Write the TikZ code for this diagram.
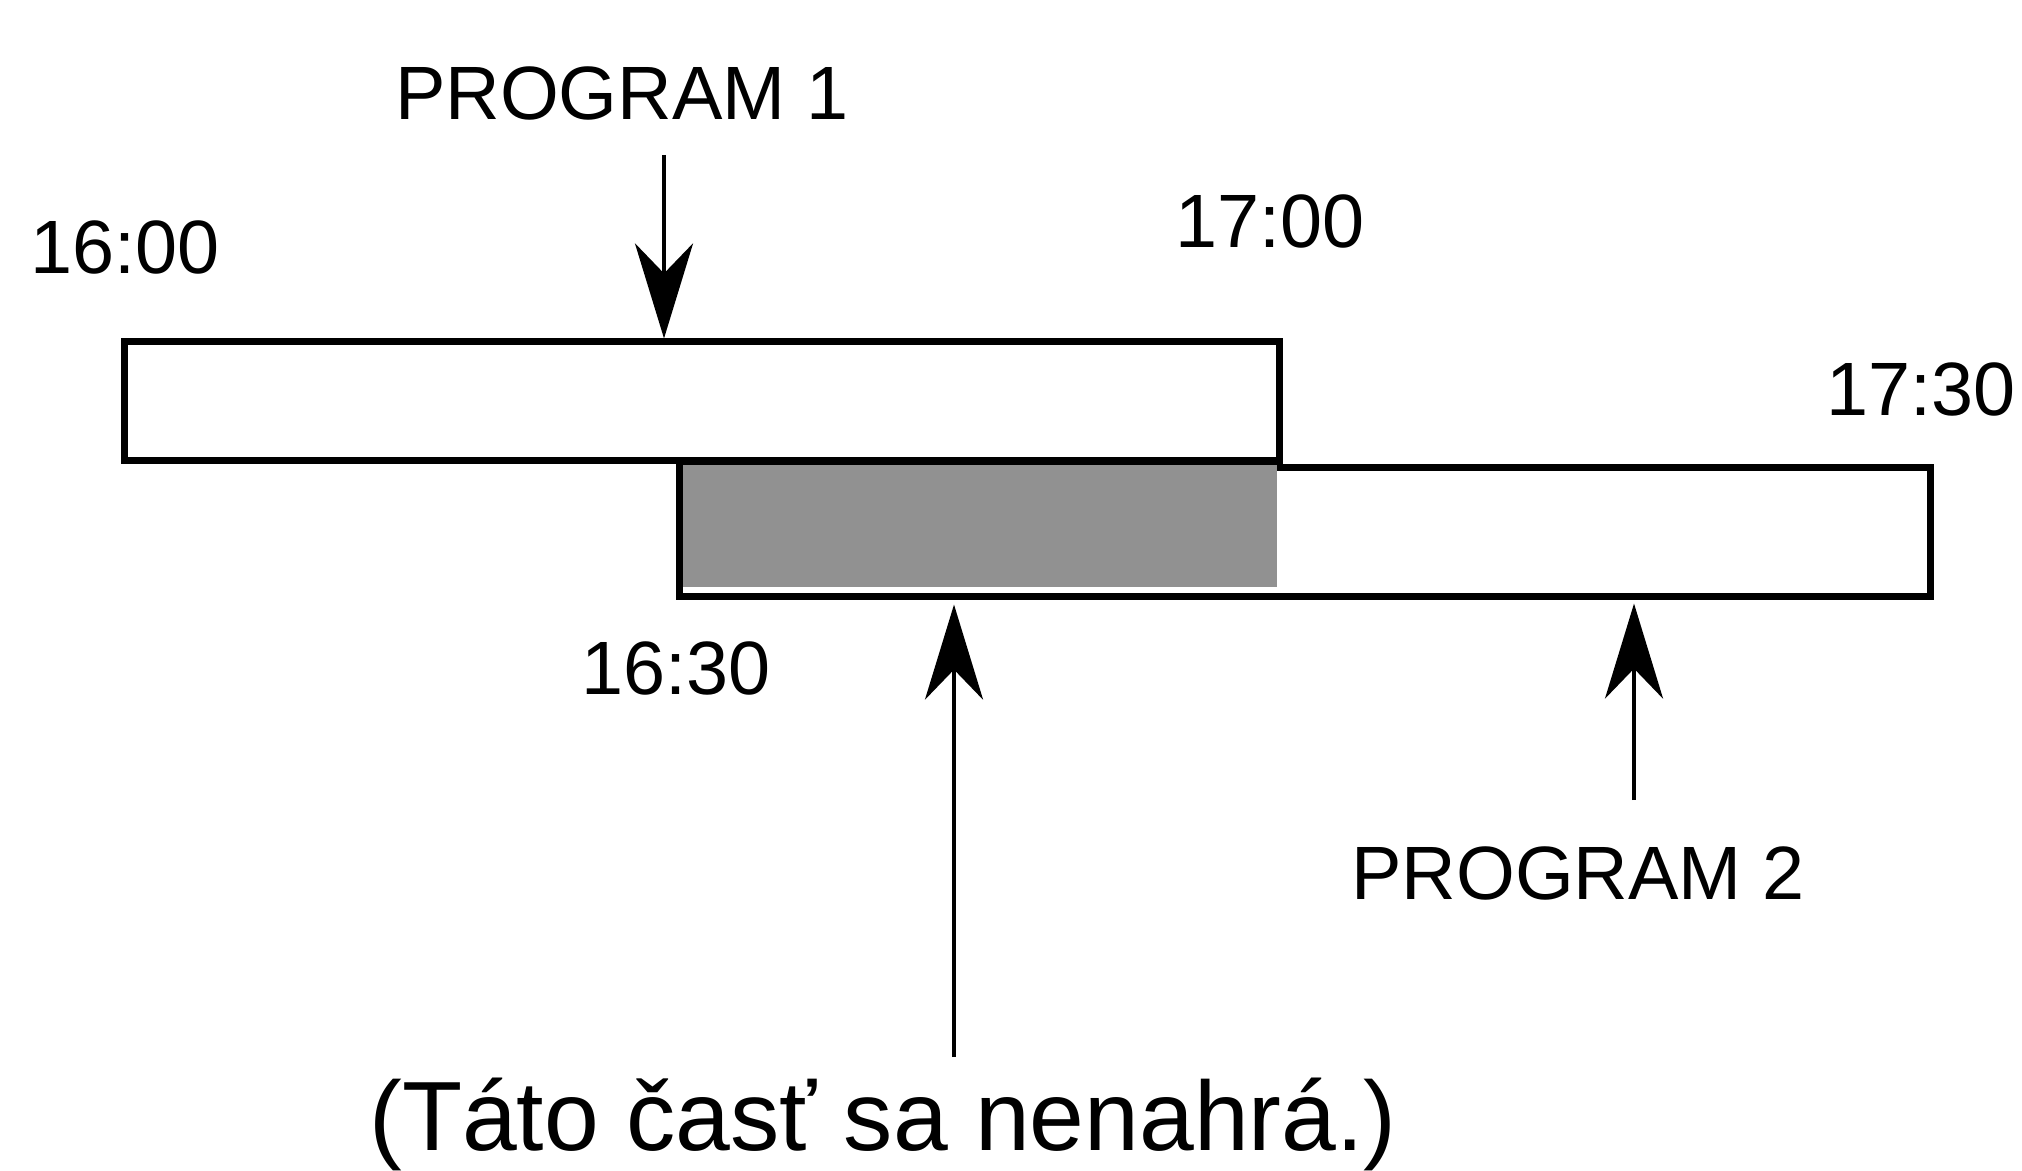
\documentclass[tikz,border=0pt]{standalone}
\usepackage{fontspec}
\setmainfont{Liberation Sans}
\usepackage{xcolor}
\usepackage{tikz}
\usetikzlibrary{positioning,arrows.meta,calc}
\definecolor{RECink}{HTML}{000000}
\definecolor{RECshade}{HTML}{919191}
\tikzset{
  slotbox/.style={draw=RECink, fill=white, line width=2pt, inner sep=0pt, anchor=center},
  lostpart/.style={fill=RECshade, inner sep=0pt, anchor=center},
  timelabel/.style={inner sep=0pt, anchor=base, font=\fontsize{21.5}{24}\selectfont, text=RECink},
  notelabel/.style={inner sep=0pt, anchor=base, font=\fontsize{28}{32}\selectfont, text=RECink},
  progarr/.style={-{Stealth[length=9.5mm, width=5.8mm, inset=3mm]}, line width=1.2pt, draw=RECink}
}

\begin{document}
\begin{tikzpicture}[x=0.01cm, y=-0.01cm]
\useasboundingbox (0,0) rectangle (2022,1170);
\node[slotbox, minimum width=12.5cm, minimum height=1.28cm] (prog2box) at (1305,532) {};
\node[lostpart, minimum width=5.94cm, minimum height=1.22cm] (lost) at (980,526) {};
\node[slotbox, minimum width=11.54cm, minimum height=1.18cm] (prog1box) at (702,401) {};
\node[timelabel] (p1lbl) at (622,120) {PROGRAM 1};
\node[timelabel] (t1600) at (125,273) {16:00};
\node[timelabel] (t1700) at (1270,248) {17:00};
\node[timelabel] (t1730) at (1921,415) {17:30};
\node[timelabel] (t1630) at (676,694) {16:30};
\node[timelabel] (p2lbl) at (1578,899) {PROGRAM 2};
\node[notelabel] (note) at (883,1150) {(Táto časť sa nenahrá.)};
\coordinate (p1from) at (664,155);
\coordinate (notefrom) at (954,1057);
\coordinate (p2from) at (1634,800);
\draw[progarr] (p1from) -- (p1from |- prog1box.north);
\draw[progarr] (notefrom) -- ($(notefrom |- prog2box.south)+(0,5)$);
\draw[progarr] (p2from) -- ($(p2from |- prog2box.south)+(0,4)$);
\end{tikzpicture}
\end{document}
